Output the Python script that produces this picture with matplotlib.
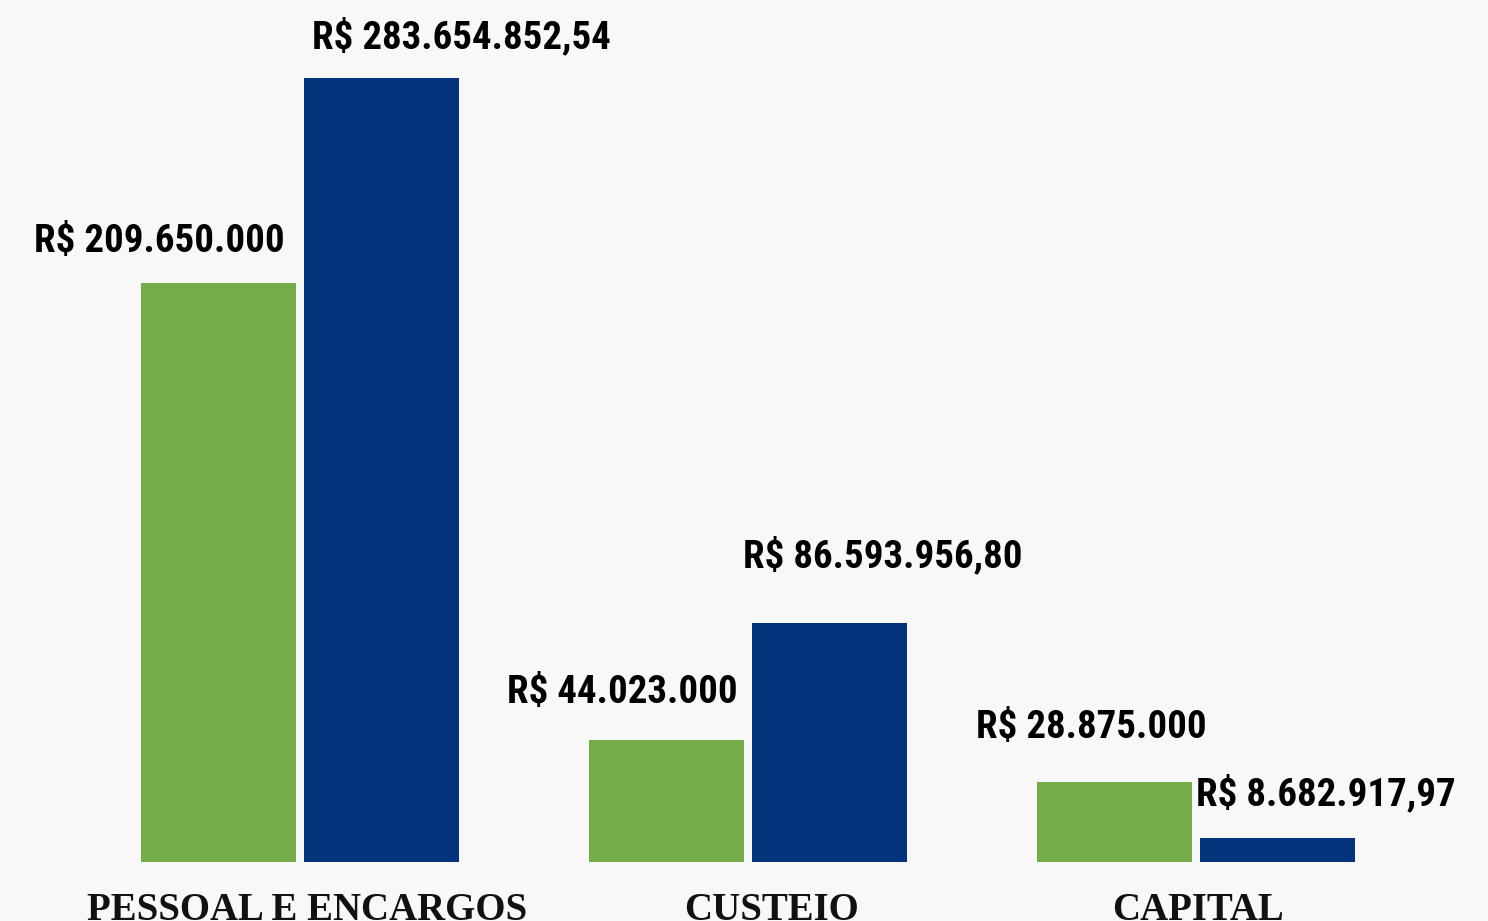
import matplotlib
matplotlib.use("Agg")
import matplotlib.pyplot as plt
import numpy as np

# ---- data ----
categories = ["PESSOAL E ENCARGOS", "CUSTEIO", "CAPITAL"]
series_green = [209650000, 44023000, 28875000]
series_blue = [283654852.54, 86593956.80, 8682917.97]
labels_green = ["R$ 209.650.000", "R$ 44.023.000", "R$ 28.875.000"]
labels_blue = ["R$ 283.654.852,54", "R$ 86.593.956,80", "R$ 8.682.917,97"]

# ---- style / layout ----
GREEN = "#72AD4A"
BLUE = "#03337A"
BG = "#F8F8F8"
W, H, DPI = 1488, 921, 100
PX_PER_CAT = 448.0
X0_PX = 300.0            # pixel x of first category center
BASE_PX = 59.0           # baseline height from bottom (px)
BAR_W = 155.0 / PX_PER_CAT
BAR_OFF = 81.5 / PX_PER_CAT
# label offsets (px): dx from bar center, dy of baseline above bar top
green_lbl_dx = [-59.5, -44.5, -23.5]
green_lbl_dy = [31, 37, 44]
blue_lbl_dx = [80, 53.5, 48]
blue_lbl_dy = [30, 55, 33]
cat_lbl_dx = [7, 24, 2]

val_family = "Roboto Condensed"
val_size = 28
cat_family = "Liberation Serif"

fig = plt.figure(figsize=(W / DPI, H / DPI), dpi=DPI, facecolor=BG)
ax = fig.add_axes([0, 0, 1, 1])
ax.set_facecolor(BG)
ax.axis("off")

x = np.arange(len(categories))
ymax_val = max(series_blue)
px_per_val = 784.0 / ymax_val
ax.set_xlim(-X0_PX / PX_PER_CAT, (W - X0_PX) / PX_PER_CAT)
ax.set_ylim(-BASE_PX / px_per_val, (H - BASE_PX) / px_per_val)

ax.bar(x - BAR_OFF, series_green, width=BAR_W, color=GREEN, linewidth=0)
ax.bar(x + BAR_OFF, series_blue, width=BAR_W, color=BLUE, linewidth=0)

pt = 72.0 / DPI
for i in range(len(categories)):
    ax.annotate(labels_green[i], xy=(x[i] - BAR_OFF, series_green[i]),
                xytext=(green_lbl_dx[i] * pt, green_lbl_dy[i] * pt),
                textcoords="offset points", ha="center", va="baseline",
                fontsize=val_size, fontweight="bold", family=val_family, color="#000000")
    ax.annotate(labels_blue[i], xy=(x[i] + BAR_OFF, series_blue[i]),
                xytext=(blue_lbl_dx[i] * pt, blue_lbl_dy[i] * pt),
                textcoords="offset points", ha="center", va="baseline",
                fontsize=val_size, fontweight="bold", family=val_family, color="#000000")
    ax.annotate(categories[i], xy=(x[i], 0), xytext=(cat_lbl_dx[i] * pt, -(892 - 862) * pt),
                textcoords="offset points", ha="center", va="top",
                fontsize=28, fontweight="bold", family=cat_family, color="#111111",
                annotation_clip=False)

fig.savefig("out.png", dpi=DPI, facecolor=BG)
